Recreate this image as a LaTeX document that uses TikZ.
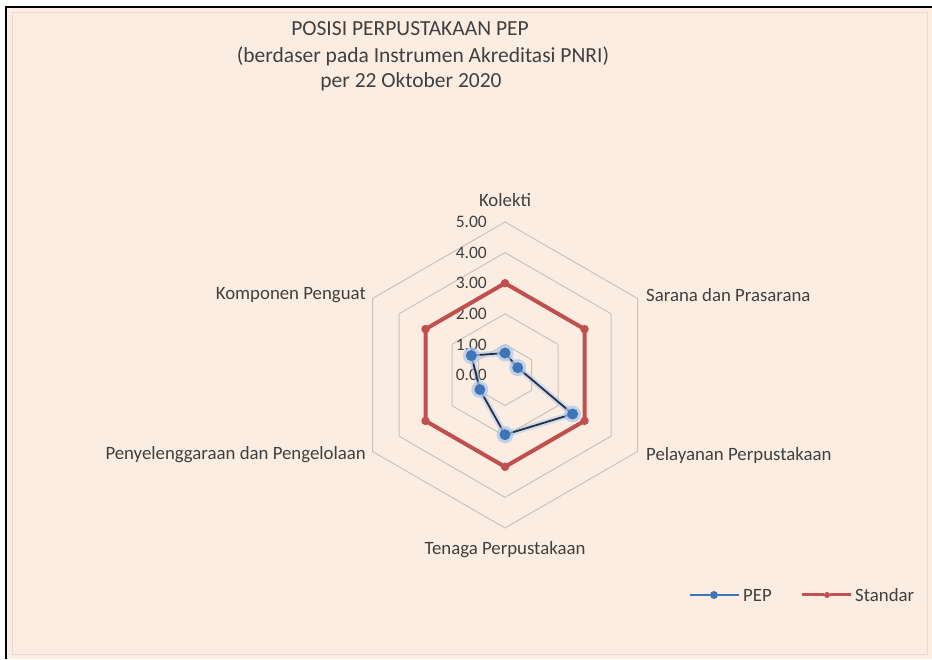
\documentclass[tikz,border=0pt]{standalone}
\usepackage{fontspec}
\setmainfont{Carlito}
\usetikzlibrary{positioning}
\definecolor{chartbg}{HTML}{FCEDE3}
\definecolor{chartframe}{HTML}{E6DAD2}
\definecolor{gridgray}{HTML}{C8C3C0}
\definecolor{textgray}{HTML}{404040}
\definecolor{pepblue}{HTML}{3F74B8}
\definecolor{pepline}{HTML}{22324C}
\definecolor{pepglow}{HTML}{A9C6E8}
\definecolor{stdred}{HTML}{C0504D}

\begin{document}
\begin{tikzpicture}[x=1pt,y=1pt,
		axislabel/.style={text=textgray, font=\fontsize{18.8}{20}\selectfont, inner sep=1pt},
		ticklabel/.style={text=textgray, font=\fontsize{17.5}{19}\selectfont, inner sep=1pt, anchor=east},
		titleline/.style={text=textgray, font=\fontsize{21.5}{24}\selectfont, inner sep=1pt, anchor=base},
		gridline/.style={gridgray, line width=1pt},
		pepdot/.style={circle, fill=pepblue, minimum size=11pt, inner sep=0pt},
		stddot/.style={circle, fill=stdred, minimum size=8.5pt, inner sep=0pt}]
					\pgfmathsetmacro{\Unit}{30.6}
					\pgfmathsetmacro{\CX}{505}
					\pgfmathsetmacro{\CY}{284}
					\useasboundingbox (0,0) rectangle (932,659);
					% FRAME
					\fill[chartbg] (6,0) rectangle (932,652);
					\draw[chartframe, line width=1pt] (12,5) rectangle (927,646);
					\draw[black, line width=2pt] (6,0) -- (6,652) -- (932,652);
					% TITLE
					\node[titleline] (title1) at (410,623) {POSISI PERPUSTAKAAN PEP};
					\node[titleline] (title2) at (423,596) {(berdaser pada Instrumen Akreditasi PNRI)};
					\node[titleline] (title3) at (411,571) {per 22 Oktober 2020};
					\begin{scope}[shift={(\CX,\CY)}]
						% GRID
						\foreach \r in {1,...,5} {
							\draw[gridline] (90:\r*\Unit) -- (30:\r*\Unit) -- (-30:\r*\Unit) -- (-90:\r*\Unit) -- (210:\r*\Unit) -- (150:\r*\Unit) -- cycle;
						}
						\foreach \r in {0,...,5} {
							\node[ticklabel] (tick\r) at (-17,\r*\Unit) {\r.00};
						}
						% AXIS LABELS
						\node[axislabel] (kolekti) at (0,175) {Kolekti};
						\node[axislabel, anchor=west] (sarana) at (140,80) {Sarana dan Prasarana};
						\node[axislabel, anchor=west] (pelayanan) at (140,-80) {Pelayanan Perpustakaan};
						\node[axislabel] (tenaga) at (0,-175) {Tenaga Perpustakaan};
						\node[axislabel, anchor=east] (penyelenggaraan) at (-138,-80) {Penyelenggaraan dan Pengelolaan};
						\node[axislabel, anchor=east] (komponen) at (-138,80) {Komponen Penguat};
						% STANDAR
						\foreach \a [count=\i] in {90,30,-30,-90,210,150} {
							\coordinate (std\i) at (\a:3*\Unit);
						}
						\draw[stdred, line width=4pt, line join=round] (std1) -- (std2) -- (std3) -- (std4) -- (std5) -- (std6) -- cycle;
						\foreach \i in {1,...,6} {
							\node[stddot] (stdm\i) at (std\i) {};
						}
						% PEP
						\foreach \a/\v [count=\i] in {90/0.72,30/0.48,-30/2.55,-90/1.95,210/0.95,150/1.27} {
							\coordinate (pep\i) at (\a:\v*\Unit);
						}
						\draw[pepglow, line width=6pt, opacity=0.5, line join=round] (pep1) -- (pep2) -- (pep3) -- (pep4) -- (pep5) -- (pep6) -- cycle;
						\draw[pepline, line width=1.8pt, line join=round] (pep1) -- (pep2) -- (pep3) -- (pep4) -- (pep5) -- (pep6) -- cycle;
						\foreach \i in {1,...,6} {
							\fill[pepglow, opacity=0.7] (pep\i) circle (8.5);
							\node[pepdot] (pepm\i) at (pep\i) {};
						}
					\end{scope}
					% LEGEND
					\coordinate (legpepA) at (690,64);
					\node[pepdot, minimum size=8pt] (legpepdot) at (714,64) {};
					\node[axislabel, anchor=west] (legpep) at (742,64) {PEP};
					\draw[pepblue, line width=1.6pt, shorten >=3pt] (legpepA) -- (legpepdot) -- (legpep.west);
					\coordinate (legstdA) at (802,64);
					\node[stddot, minimum size=6pt] (legstddot) at (827,64) {};
					\node[axislabel, anchor=west] (legstd) at (854,64) {Standar};
					\draw[stdred, line width=3pt, shorten >=3pt] (legstdA) -- (legstddot) -- (legstd.west);
				\end{tikzpicture}
\end{document}
